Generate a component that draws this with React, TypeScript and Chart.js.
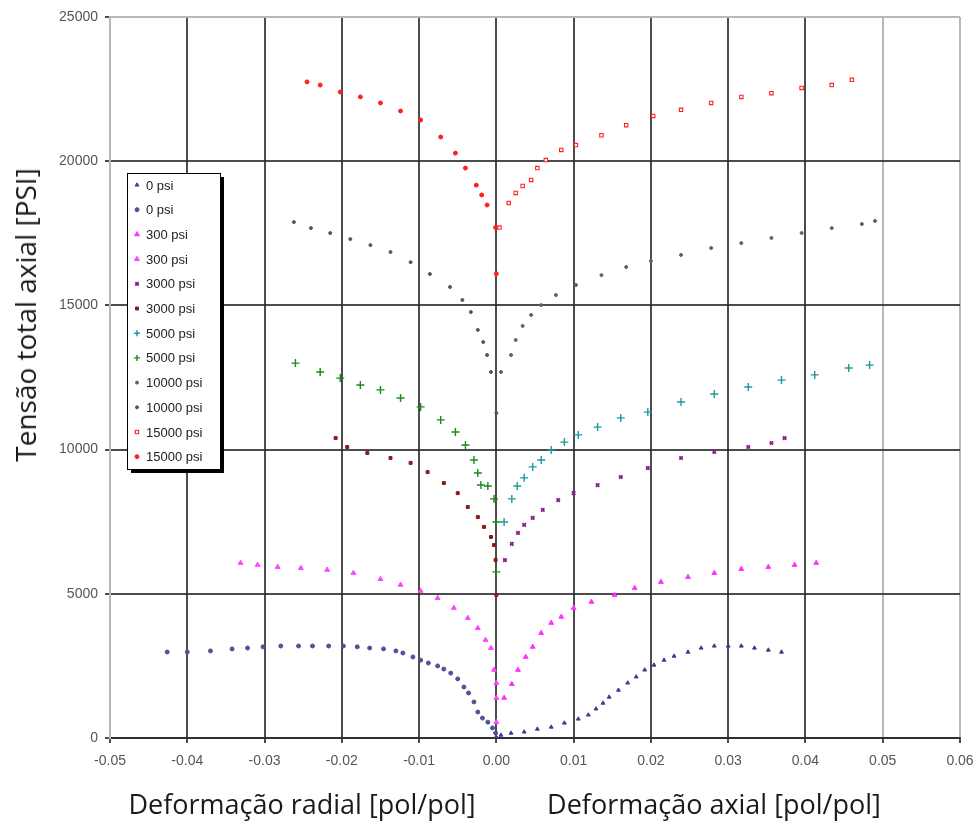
import React, { useEffect, useRef } from "react";
import { Chart, registerables } from "chart.js";
import { drawPoint } from "chart.js/helpers";

Chart.register(...registerables);

const X_TICKS = [-0.05, -0.04, -0.03, -0.02, -0.01, 0, 0.01, 0.02, 0.03, 0.04, 0.05, 0.06];
const Y_TICKS = [0, 5000, 10000, 15000, 20000, 25000];
const Y_TITLE = "Tensão total axial [PSI]";
const X_TITLE_RADIAL = "Deformação radial [pol/pol]";
const X_TITLE_AXIAL = "Deformação axial [pol/pol]";

// [strain, stress]
const P0_AXIAL = [
  [0, 0], [0.0006, 100], [0.0019, 170], [0.0036, 210], [0.0053, 310], [0.0071, 380], [0.0088, 520],
  [0.0106, 660], [0.0119, 800], [0.0129, 1010], [0.0138, 1210], [0.0146, 1420], [0.0158, 1660],
  [0.017, 1910], [0.0181, 2120], [0.0192, 2360], [0.0204, 2530], [0.0217, 2700], [0.023, 2840],
  [0.0248, 2980], [0.0265, 3120], [0.0282, 3190], [0.03, 3190], [0.0317, 3190], [0.0334, 3120],
  [0.0352, 3050], [0.0369, 2980],
];
const P0_RADIAL = [
  [-0.0426, 2980], [-0.04, 2980], [-0.037, 3020], [-0.0342, 3090], [-0.0322, 3120], [-0.0302, 3160],
  [-0.0279, 3190], [-0.0256, 3190], [-0.0238, 3190], [-0.0217, 3190], [-0.0198, 3190], [-0.018, 3160],
  [-0.0164, 3120], [-0.0146, 3090], [-0.013, 3020], [-0.0121, 2950], [-0.0108, 2810], [-0.0098, 2700],
  [-0.0088, 2600], [-0.0076, 2500], [-0.0068, 2390], [-0.0059, 2250], [-0.005, 2050], [-0.0042, 1770],
  [-0.0036, 1560], [-0.0029, 1250], [-0.0024, 900], [-0.0018, 690], [-0.0011, 550], [-0.0005, 350],
  [-0.0001, 170], [0, 0],
];
const P300_AXIAL = [
  [0.001, 1390], [0.002, 1870], [0.0028, 2360], [0.0038, 2810], [0.0047, 3160], [0.0058, 3640],
  [0.0071, 3990], [0.0084, 4200], [0.01, 4510], [0.0123, 4720], [0.0153, 4960], [0.0179, 5200],
  [0.0213, 5410], [0.0248, 5580], [0.0282, 5720], [0.0317, 5860], [0.0352, 5930], [0.0386, 6000],
  [0.0414, 6070],
];
const P300_RADIAL = [
  [-0.0331, 6070], [-0.0309, 6000], [-0.0283, 5930], [-0.0253, 5890], [-0.0219, 5830], [-0.0185, 5720],
  [-0.015, 5510], [-0.0124, 5310], [-0.0098, 5100], [-0.0076, 4850], [-0.0055, 4510], [-0.0037, 4160],
  [-0.0024, 3810], [-0.0014, 3400], [-0.0007, 3120], [-0.0003, 2360], [0, 1910], [0, 1390], [0, 550],
];
const P3000_AXIAL = [
  [0.0011, 6170], [0.002, 6730], [0.0028, 7110], [0.0036, 7390], [0.0047, 7630], [0.006, 7910],
  [0.008, 8250], [0.01, 8490], [0.0131, 8770], [0.0161, 9050], [0.0196, 9360], [0.0239, 9710],
  [0.0282, 9920], [0.0326, 10090], [0.0356, 10230], [0.0373, 10400],
];
const P3000_RADIAL = [
  [-0.0208, 10400], [-0.0193, 10090], [-0.0167, 9880], [-0.0137, 9710], [-0.0111, 9540], [-0.0089, 9220],
  [-0.0068, 8840], [-0.005, 8490], [-0.0037, 8010], [-0.0024, 7660], [-0.0016, 7320], [-0.0007, 6970],
  [-0.0003, 6690], [-0.0001, 6170], [0, 4960],
];
const P5000_AXIAL = [
  [0.001, 7490], [0.002, 8290], [0.0027, 8740], [0.0036, 9020], [0.0047, 9400], [0.0058, 9640],
  [0.0071, 9990], [0.0088, 10260], [0.0106, 10510], [0.0131, 10780], [0.0161, 11100], [0.0196, 11300],
  [0.0239, 11650], [0.0282, 11930], [0.0326, 12170], [0.0369, 12410], [0.0412, 12590], [0.0456, 12830],
  [0.0483, 12930],
];
const P5000_RADIAL = [
  [-0.026, 13000], [-0.0228, 12690], [-0.0202, 12480], [-0.0176, 12240], [-0.015, 12070], [-0.0124, 11790],
  [-0.0098, 11480], [-0.0072, 11030], [-0.0053, 10610], [-0.004, 10160], [-0.0029, 9640], [-0.0024, 9190],
  [-0.002, 8770], [-0.0011, 8740], [-0.0003, 8290], [0, 7490], [0, 5760],
];
const P10000_AXIAL = [
  [0.0006, 12690], [0.0019, 13280], [0.0025, 13800], [0.0034, 14290], [0.0045, 14670], [0.0058, 15010],
  [0.0077, 15360], [0.0103, 15710], [0.0136, 16050], [0.0168, 16330], [0.02, 16540], [0.0239, 16750],
  [0.0278, 16990], [0.0317, 17160], [0.0356, 17340], [0.0395, 17510], [0.0434, 17680], [0.0473, 17820],
  [0.049, 17930],
];
const P10000_RADIAL = [
  [-0.0262, 17890], [-0.024, 17680], [-0.0215, 17510], [-0.0189, 17300], [-0.0163, 17090], [-0.0137, 16850],
  [-0.0111, 16500], [-0.0086, 16090], [-0.006, 15640], [-0.0044, 15190], [-0.0033, 14770], [-0.0024, 14150],
  [-0.0017, 13730], [-0.0012, 13280], [-0.0007, 12690], [0, 11270],
];
const P15000_AXIAL = [
  [0.0004, 17700], [0.0016, 18550], [0.0025, 18900], [0.0034, 19140], [0.0045, 19350], [0.0053, 19760],
  [0.0064, 20040], [0.0084, 20390], [0.0103, 20560], [0.0136, 20900], [0.0168, 21250], [0.0203, 21570],
  [0.0239, 21780], [0.0278, 22020], [0.0317, 22230], [0.0356, 22360], [0.0395, 22540], [0.0434, 22640],
  [0.046, 22820],
];
const P15000_RADIAL = [
  [-0.0245, 22750], [-0.0228, 22640], [-0.0202, 22400], [-0.0176, 22230], [-0.015, 22020], [-0.0124, 21740],
  [-0.0098, 21430], [-0.0072, 20840], [-0.0053, 20280], [-0.004, 19760], [-0.0026, 19170], [-0.0019, 18830],
  [-0.0012, 18480], [-0.0001, 17700], [0, 16100],
];

const SERIES_LABELS = [
  "0 psi", "0 psi", "300 psi", "300 psi", "3000 psi", "3000 psi",
  "5000 psi", "5000 psi", "10000 psi", "10000 psi", "15000 psi", "15000 psi",
];
const SERIES_DATA = [
  P0_AXIAL, P0_RADIAL, P300_AXIAL, P300_RADIAL, P3000_AXIAL, P3000_RADIAL,
  P5000_AXIAL, P5000_RADIAL, P10000_AXIAL, P10000_RADIAL, P15000_AXIAL, P15000_RADIAL,
];
const SERIES_STYLE = [
  { color: "#3c3c8f", fill: "#3c3c8f", style: "triangle", r: 2.2, bw: 1 },
  { color: "#50509a", fill: "#50509a", style: "circle", r: 2, bw: 1 },
  { color: "#ff33ff", fill: "#ff33ff", style: "triangle", r: 2.8, bw: 1 },
  { color: "#ff44ff", fill: "#ff44ff", style: "triangle", r: 2.8, bw: 1 },
  { color: "#8a1a8a", fill: "#8a1a8a", style: "crossRot", r: 2.4, bw: 1.8 },
  { color: "#8b1a1a", fill: "#8b1a1a", style: "rect", r: 2.1, bw: 1 },
  { color: "#1a9a9a", fill: "#1a9a9a", style: "cross", r: 4, bw: 1.4 },
  { color: "#1a8a1a", fill: "#1a8a1a", style: "cross", r: 4, bw: 1.4 },
  { color: "#606060", fill: "#606060", style: "circle", r: 1.5, bw: 1 },
  { color: "#555555", fill: "#555555", style: "circle", r: 1.5, bw: 1 },
  { color: "#ff2020", fill: "#ffffff", style: "rect", r: 2.4, bw: 1.1 },
  { color: "#ff2020", fill: "#ff2020", style: "circle", r: 2, bw: 1 },
];

const DARK = "rgba(45,45,45,0.85)";
const LIGHT = "#b8b8b8";

const legendPlugin = {
  id: "boxLegend",
  afterDraw(chart: any) {
    const ctx = chart.ctx;
    const x0 = 127, y0 = 173, w = 93, h = 296;
    ctx.save();
    ctx.fillStyle = "#000";
    ctx.fillRect(x0 + 4, y0 + 4, w, h);
    ctx.fillStyle = "#fff";
    ctx.fillRect(x0, y0, w, h);
    ctx.strokeStyle = "#000";
    ctx.lineWidth = 1;
    ctx.strokeRect(x0 + 0.5, y0 + 0.5, w, h);
    ctx.font = "13px 'Liberation Sans', Arial, sans-serif";
    ctx.textBaseline = "middle";
    ctx.textAlign = "left";
    chart.data.datasets.forEach((ds: any, i: number) => {
      const y = 185 + i * 24.7;
      const st = SERIES_STYLE[i];
      ctx.fillStyle = st.fill;
      ctx.strokeStyle = st.color;
      ctx.lineWidth = st.bw;
      drawPoint(ctx, { pointStyle: st.style, radius: Math.min(st.r, 3), rotation: 0, borderWidth: st.bw } as any, 137, y);
      ctx.fillStyle = "#222";
      ctx.fillText(ds.label, 146, y + 1);
    });
    ctx.restore();
  },
};

export default function App() {
  const ref = useRef<HTMLCanvasElement | null>(null);
  useEffect(() => {
    if (!ref.current) return;
    const datasets = SERIES_DATA.map((arr, i) => {
      const st = SERIES_STYLE[i];
      return {
        label: SERIES_LABELS[i],
        data: arr.map(([x, y]) => ({ x, y })),
        showLine: false,
        pointStyle: st.style,
        pointRadius: st.r,
        pointBorderWidth: st.bw,
        borderColor: st.color,
        backgroundColor: st.fill,
      };
    });
    const tickFont = { family: "'Liberation Sans', Arial, sans-serif", size: 14 };
    const chart = new Chart(ref.current, {
      type: "scatter",
      data: { datasets },
      plugins: [legendPlugin],
      options: {
        animation: false,
        responsive: false,
        layout: { padding: { left: 0, right: 19, top: 17, bottom: 0 } },
        plugins: { legend: { display: false }, tooltip: { enabled: false } },
        scales: {
          x: {
            type: "linear",
            min: -0.05,
            max: 0.06,
            afterBuildTicks: (s: any) => { s.ticks = X_TICKS.map((v) => ({ value: v })); },
            afterFit: (s: any) => { s.height = 83; s.paddingLeft = 0; s.paddingRight = 0; },
            ticks: {
              callback: (v: any) => (Math.abs(Number(v)) < 1e-9 ? "0.00" : Number(v).toFixed(2)),
              color: "#555",
              font: tickFont,
              padding: 10,
              maxRotation: 0,
              autoSkip: false,
            },
            grid: {
              color: (c: any) => {
                const v = c.tick ? c.tick.value : 0;
                return Math.abs(v) >= 0.0495 ? LIGHT : DARK;
              },
              lineWidth: 2,
              tickLength: 5,
              tickColor: DARK,
            },
            border: { color: DARK, width: 2 },
          },
          y: {
            type: "linear",
            min: 0,
            max: 25000,
            afterBuildTicks: (s: any) => { s.ticks = Y_TICKS.map((v) => ({ value: v })); },
            afterFit: (s: any) => { s.width = 110; s.paddingTop = 0; s.paddingBottom = 0; },
            ticks: {
              callback: (v: any) => String(v),
              color: "#555",
              font: tickFont,
              padding: 7,
            },
            grid: {
              color: (c: any) => {
                const v = c.tick ? c.tick.value : 0;
                return v >= 25000 ? LIGHT : DARK;
              },
              lineWidth: 2,
              tickLength: 5,
              tickColor: DARK,
            },
            border: { color: LIGHT, width: 2 },
          },
        },
      } as any,
    });
    return () => chart.destroy();
  }, []);

  const titleStyle: React.CSSProperties = {
    position: "absolute",
    fontFamily: "'Open Sans', 'Noto Sans', sans-serif",
    fontSize: 27,
    color: "#1a1a1a",
    whiteSpace: "nowrap",
    lineHeight: 1,
    transform: "translate(-50%, -50%)",
  };

  return (
    <div style={{ position: "fixed", left: 0, top: 0, width: 979, height: 821, background: "#fff" }}>
      <canvas ref={ref} width={979} height={821} style={{ display: "block" }} />
      <div style={{ ...titleStyle, left: 302, top: 803 }}>{X_TITLE_RADIAL}</div>
      <div style={{ ...titleStyle, left: 714, top: 803 }}>{X_TITLE_AXIAL}</div>
      <div style={{ ...titleStyle, fontSize: 28, left: 25, top: 315, transform: "translate(-50%, -50%) rotate(-90deg)" }}>{Y_TITLE}</div>
    </div>
  );
}
